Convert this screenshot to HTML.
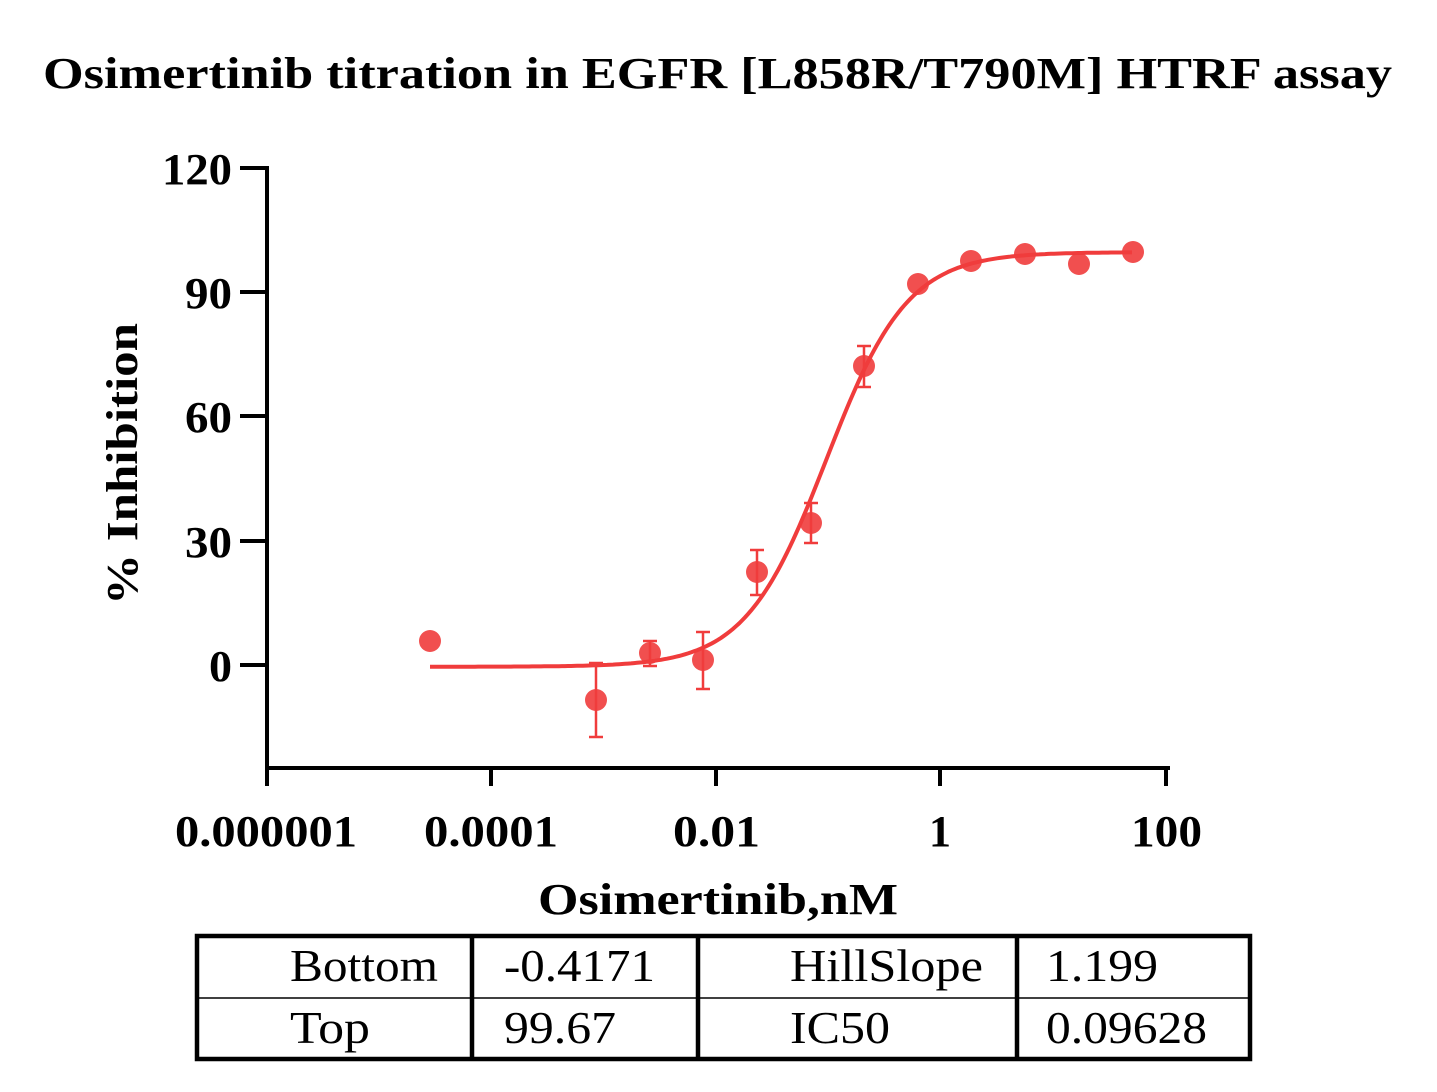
<!DOCTYPE html>
<html><head><meta charset="utf-8"><style>
html,body{margin:0;padding:0;background:#fff;}
svg{display:block;}
text{font-family:"Liberation Serif",serif;}
</style></head><body>
<svg id="s" width="1437" height="1092" viewBox="0 0 1437 1092" xmlns="http://www.w3.org/2000/svg">
<text x="43" y="88" font-size="44" font-weight="bold" textLength="1349" lengthAdjust="spacingAndGlyphs">Osimertinib titration in  EGFR [L858R/T790M] HTRF assay</text>
<g stroke="#000" stroke-width="4" fill="none">
<line x1="267" y1="166" x2="267" y2="770"/>
<line x1="265" y1="768" x2="1170" y2="768"/>
<line x1="240" y1="168" x2="267" y2="168"/>
<line x1="240" y1="292" x2="267" y2="292"/>
<line x1="240" y1="416" x2="267" y2="416"/>
<line x1="240" y1="541" x2="267" y2="541"/>
<line x1="240" y1="665" x2="267" y2="665"/>
<line x1="267" y1="768" x2="267" y2="786"/>
<line x1="491" y1="768" x2="491" y2="786"/>
<line x1="716" y1="768" x2="716" y2="786"/>
<line x1="940" y1="768" x2="940" y2="786"/>
<line x1="1166" y1="768" x2="1166" y2="786"/>
</g>
<g font-size="44" font-weight="bold">
<text x="162" y="184" textLength="70" lengthAdjust="spacingAndGlyphs">120</text>
<text x="185" y="308" textLength="47" lengthAdjust="spacingAndGlyphs">90</text>
<text x="185" y="432" textLength="47" lengthAdjust="spacingAndGlyphs">60</text>
<text x="185" y="557" textLength="47" lengthAdjust="spacingAndGlyphs">30</text>
<text x="209" y="681" textLength="23" lengthAdjust="spacingAndGlyphs">0</text>
<text x="175" y="846" textLength="182" lengthAdjust="spacingAndGlyphs">0.000001</text>
<text x="424" y="846" textLength="134" lengthAdjust="spacingAndGlyphs">0.0001</text>
<text x="673" y="846" textLength="87" lengthAdjust="spacingAndGlyphs">0.01</text>
<text x="929" y="846" textLength="22" lengthAdjust="spacingAndGlyphs">1</text>
<text x="1131" y="846" textLength="71" lengthAdjust="spacingAndGlyphs">100</text>
<text x="538" y="914" textLength="360" lengthAdjust="spacingAndGlyphs">Osimertinib,nM</text>
<text transform="translate(137,605) rotate(-90)" textLength="282" lengthAdjust="spacingAndGlyphs">% Inhibition</text>
</g>
<path id="curve" fill="none" stroke="#f03c3c" stroke-width="4"/>
<g stroke="#f03c3c" stroke-width="2.5" fill="none">
<path d="M596 663V737M589 663H603M589 737H603"/>
<path d="M650 641V666M643 641H657M643 666H657"/>
<path d="M703 632V689M696 632H710M696 689H710"/>
<path d="M757 550V595M750 550H764M750 595H764"/>
<path d="M811 503V543M804 503H818M804 543H818"/>
<path d="M864 346V387M857 346H871M857 387H871"/>
</g>
<g fill="#f03c3c" fill-opacity="0.9">
<circle cx="430" cy="641" r="11"/><circle cx="596" cy="700" r="11"/><circle cx="650" cy="653" r="11"/><circle cx="703" cy="660" r="11"/><circle cx="757" cy="572" r="11"/><circle cx="811" cy="523" r="11"/><circle cx="864" cy="366" r="11"/><circle cx="918" cy="284" r="11"/><circle cx="971" cy="261" r="11"/><circle cx="1025" cy="254" r="11"/><circle cx="1079" cy="264" r="11"/><circle cx="1133" cy="252" r="11"/>
</g>
<g stroke="#000" fill="none">
<rect x="197" y="936" width="1053" height="123" stroke-width="4.5"/>
<line x1="472" y1="936" x2="472" y2="1059" stroke-width="4.5"/>
<line x1="698" y1="936" x2="698" y2="1059" stroke-width="4.5"/>
<line x1="1017" y1="936" x2="1017" y2="1059" stroke-width="4.5"/>
<line x1="197" y1="998" x2="1250" y2="998" stroke-width="1.5"/>
</g>
<g font-size="46">
<text x="290" y="981" textLength="148" lengthAdjust="spacingAndGlyphs">Bottom</text>
<text x="504" y="981" textLength="151" lengthAdjust="spacingAndGlyphs">-0.4171</text>
<text x="790" y="981" textLength="193" lengthAdjust="spacingAndGlyphs">HillSlope</text>
<text x="1046" y="981" textLength="112" lengthAdjust="spacingAndGlyphs">1.199</text>
<text x="290" y="1043" textLength="80" lengthAdjust="spacingAndGlyphs">Top</text>
<text x="504" y="1043" textLength="112" lengthAdjust="spacingAndGlyphs">99.67</text>
<text x="790" y="1043" textLength="100" lengthAdjust="spacingAndGlyphs">IC50</text>
<text x="1046" y="1043" textLength="161" lengthAdjust="spacingAndGlyphs">0.09628</text>
</g>
</svg>
<script>
var b=-0.4171,t=99.67,li=Math.log10(0.09628),h=1.199,d="";
for(var px=430;px<=1133;px+=3){var lx=(px-267)/112.25-6;var v=b+(t-b)/(1+Math.pow(10,(li-lx)*h));var py=665-v*4.142;d+=(d?"L":"M")+px+" "+py.toFixed(1);}
document.getElementById("curve").setAttribute("d",d);
</script>
</body></html>
